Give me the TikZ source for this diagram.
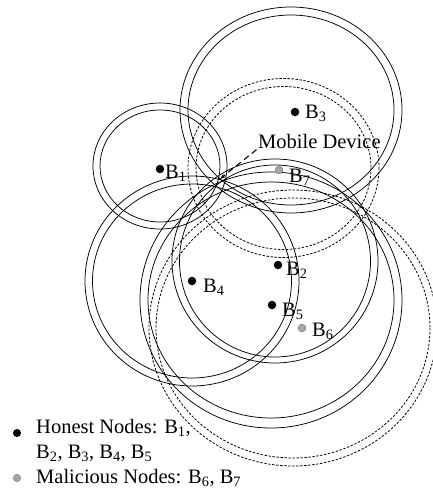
\documentclass[tikz,border=0pt]{standalone}
\usepackage{fontspec}
\setmainfont{Liberation Serif}
\usetikzlibrary{arrows.meta}
\begin{document}
\begin{tikzpicture}[x=1pt,y=-1pt,
  ring/.style={line width=0.75pt},
  dring/.style={line width=0.8pt, dash pattern=on 2.4pt off 1.6pt},
  honest/.style={circle, fill=black, inner sep=0pt, minimum size=8.5pt},
  malicious/.style={circle, fill=gray!70, draw=black!60, line width=0.3pt, inner sep=0pt, minimum size=8pt},
  lbl/.style={anchor=base west, inner sep=0pt, font=\fontsize{20.5}{24}\selectfont}]
\useasboundingbox (0,0) rectangle (433,495);
% B1
\draw[ring] (160,166) ellipse [x radius=67, y radius=63];
\draw[ring] (160,166) ellipse [x radius=60, y radius=56];
% B3
\draw[ring] (291,110) ellipse [x radius=111, y radius=103];
\draw[ring] (291,110) ellipse [x radius=103, y radius=95];
% B7 (dashed)
\draw[dring] (283.5,168) ellipse [x radius=95.5, y radius=89.5];
\draw[dring] (283.5,168) ellipse [x radius=87.5, y radius=81.5];
% B2
\draw[ring] (275,261) ellipse [x radius=103, y radius=102];
\draw[ring] (275,261) ellipse [x radius=95.5, y radius=96];
% B4
\draw[ring] (192,281) ellipse [x radius=107, y radius=105];
\draw[ring] (192,281) ellipse [x radius=99.5, y radius=97];
% B5
\draw[ring] (271,300) ellipse [x radius=131, y radius=128];
\draw[ring] (271,300) ellipse [x radius=123, y radius=118];
% B6 (dashed)
\draw[dring] (293,328) ellipse [x radius=144, y radius=138];
\draw[dring] (293,328) ellipse [x radius=137, y radius=130];
% base stations
\node[honest] (b1) at (160,169) {};
\node[honest] (b3) at (295,112) {};
\node[malicious] (b7) at (279,170) {};
\node[honest] (b2) at (278,265) {};
\node[honest] (b4) at (192,281) {};
\node[honest] (b5) at (272,305) {};
\node[malicious] (b6) at (302,328) {};
\node[lbl] (l1) at (165,178) {B\textsubscript{1}};
\node[lbl] (l3) at (305,118) {B\textsubscript{3}};
\node[lbl] (l7) at (289,182) {B\textsubscript{7}};
\node[lbl] (l2) at (286,275) {B\textsubscript{2}};
\node[lbl] (l4) at (203,292) {B\textsubscript{4}};
\node[lbl] (l5) at (282,316) {B\textsubscript{5}};
\node[lbl] (l6) at (312,336) {B\textsubscript{6}};
% mobile device
\coordinate (dev) at (220,179);
\node[lbl] (md) at (258,148) {Mobile Device};
\draw[line width=1.1pt, dash pattern=on 6pt off 4pt, -{Stealth[length=6pt,width=4pt]}, shorten <=2pt] (md.south west) -- (dev);
% legend
\node[honest, minimum size=8pt] (lh) at (17,433) {};
\node[lbl] (th1) at (36,433) {Honest Nodes: B\textsubscript{1},};
\node[lbl] (th2) at (36,458) {B\textsubscript{2}, B\textsubscript{3}, B\textsubscript{4}, B\textsubscript{5}};
\node[malicious, minimum size=7.5pt] (lm) at (17,478) {};
\node[lbl] (tm) at (36,483) {Malicious Nodes: B\textsubscript{6}, B\textsubscript{7}};
\end{tikzpicture}
\end{document}
